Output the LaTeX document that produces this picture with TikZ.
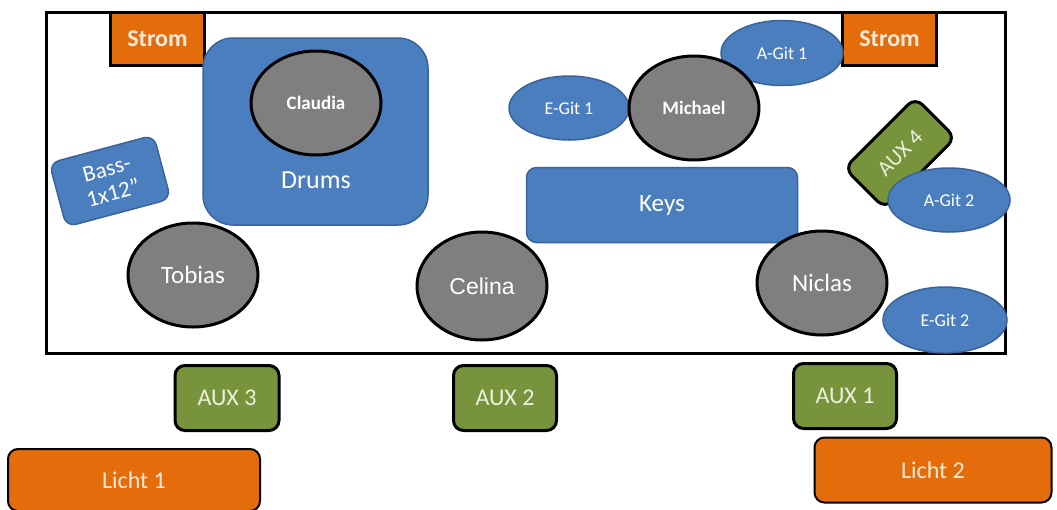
\documentclass[tikz,border=0pt]{standalone}
\usepackage{fontspec}
\setmainfont{Carlito}
\newfontfamily\arialfont{Liberation Sans}
\usetikzlibrary{shapes.geometric,positioning}
\definecolor{buehnenblau}{HTML}{4A7EBF}
\definecolor{randblau}{HTML}{3A6499}
\definecolor{personengrau}{HTML}{7F7F7F}
\definecolor{stromorange}{HTML}{E46C0A}
\definecolor{auxgruen}{HTML}{77933C}
\definecolor{auxtext}{HTML}{EBF1DE}
\definecolor{orangetext}{HTML}{FDEADA}

\begin{document}
\begin{tikzpicture}[x=1pt, y=-1pt,
      stage/.style={rectangle, draw, line width=3pt, minimum width=959pt, minimum height=341pt, inner sep=0pt},
      person/.style={ellipse, draw=black, line width=3pt, fill=personengrau, text=white, minimum width=130pt, minimum height=104pt, inner sep=0pt, font=\fontsize{25}{28}\selectfont},
      instr/.style={ellipse, draw=randblau, line width=1.5pt, fill=buehnenblau, text=white, minimum width=122pt, minimum height=65pt, inner sep=0pt, font=\fontsize{18}{20}\selectfont},
      blueblock/.style={rectangle, rounded corners=10pt, draw=randblau, line width=1.5pt, fill=buehnenblau, text=white, inner sep=0pt, font=\fontsize{25}{28}\selectfont},
      strom/.style={rectangle, draw=black, line width=3pt, fill=stromorange, text=orangetext, minimum width=94pt, minimum height=53pt, inner sep=0pt, font=\bfseries\fontsize{24}{28}\selectfont},
      aux/.style={rectangle, rounded corners=10pt, draw=black, line width=3pt, fill=auxgruen, text=auxtext, minimum width=103pt, minimum height=65pt, inner sep=0pt, font=\fontsize{24}{28}\selectfont},
      licht/.style={rectangle, rounded corners=10pt, draw=black, line width=2pt, fill=stromorange, text=orangetext, minimum height=62pt, inner sep=0pt, font=\fontsize{24}{28}\selectfont},
      small/.style={font=\bfseries\fontsize{19}{22}\selectfont}
    ]
    \useasboundingbox (0,0) rectangle (1057,509);

    % Buehne
    \node [stage] (buehne) at (525.5,182.5) {};
    \node [strom] (stromL) at (157.5,38.5) {Strom};
    \node [strom] (stromR) at (889.5,39) {Strom};

    % Schlagzeug
    \node [blueblock, rounded corners=30pt, minimum width=225pt, minimum height=187pt] (drums) at (315.5,131.5) {};
    \node [person, small] (claudia) at (316,103) {Claudia};
    \node [text=white, font=\fontsize{26}{28}\selectfont] (drumslbl) at (316,180) {Drums};

    \node [blueblock, minimum width=108pt, minimum height=66pt, rotate=15, align=center, font=\fontsize{23}{25}\selectfont] (bass) at (110,181) {Bass-\\1x12''};
    \node [person] (tobias) at (193,275) {Tobias};
    \node [person, minimum height=108pt, font=\arialfont\fontsize{23}{28}\selectfont] (celina) at (482,286) {Celina};

    % Keys und Gitarren
    \node [blueblock, minimum width=271pt, minimum height=75pt] (keys) at (662,205) {Keys};
    \node [person] (niclas) at (822,283) {Niclas};
    \node [instr, minimum width=120pt, minimum height=64pt] (egit1) at (569,108) {E-Git 1};
    \node [instr] (agit1) at (782,53) {A-Git 1};
    \node [person, small] (michael) at (694,108) {Michael};
    \node [aux, minimum width=100pt, minimum height=57pt, rotate=45, font=\fontsize{22}{24}\selectfont] (aux4) at (900,153) {AUX 4};
    \node [instr, minimum height=64pt] (agit2) at (949,200) {A-Git 2};
    \node [instr, minimum width=124pt, minimum height=66pt] (egit2) at (945,320) {E-Git 2};

    % vor der Buehne
    \node [aux, minimum width=104pt] (aux3) at (227,398) {AUX 3};
    \node [aux] (aux2) at (505,398) {AUX 2};
    \node [aux] (aux1) at (845,396) {AUX 1};
    \node [licht, minimum width=252pt] (licht1) at (134,480) {Licht 1};
    \node [licht, minimum width=237pt, minimum height=65pt] (licht2) at (933,470) {Licht 2};

\end{tikzpicture}
\end{document}
